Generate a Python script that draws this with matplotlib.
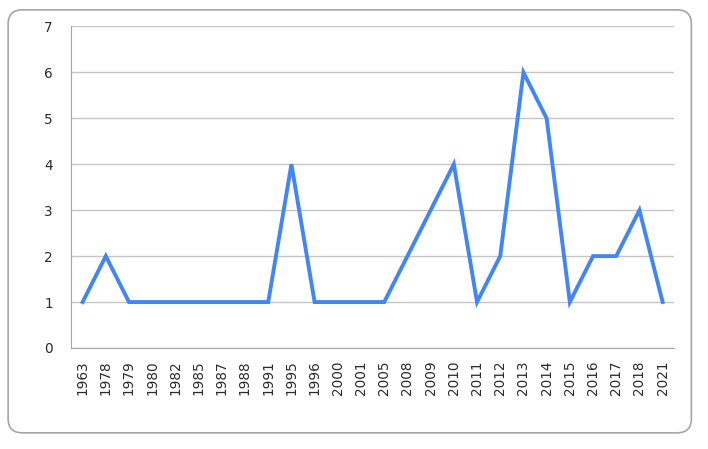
import matplotlib
matplotlib.use('Agg')
import matplotlib.pyplot as plt
from matplotlib.patches import FancyBboxPatch

# Data
years = ['1963', '1978', '1979', '1980', '1982', '1985', '1987', '1988', '1991',
         '1995', '1996', '2000', '2001', '2005', '2008', '2009', '2010', '2011',
         '2012', '2013', '2014', '2015', '2016', '2017', '2018', '2021']
counts = [1, 2, 1, 1, 1, 1, 1, 1, 1,
          4, 1, 1, 1, 1, 2, 3, 4, 1,
          2, 6, 5, 1, 2, 2, 3, 1]
y_ticks = [0, 1, 2, 3, 4, 5, 6, 7]

fig = plt.figure(figsize=(7.08, 4.49), dpi=100)

# rounded outer frame
frame = FancyBboxPatch((0.0115, 0.036), 0.965, 0.942,
                       boxstyle='round,pad=0,rounding_size=0.02',
                       transform=fig.transFigure, facecolor='none',
                       edgecolor='#a6a6a6', linewidth=1.2,
                       mutation_aspect=708 / 449, zorder=-1)
fig.patches.append(frame)

ax = fig.add_axes([0.1003, 0.225, 0.852, 0.716])
ax.set_facecolor('none')

x = list(range(len(years)))
ax.plot(x, counts, color='#4285f4', linewidth=2.8, solid_joinstyle='miter', zorder=3)

ax.set_xlim(-0.5, len(years) - 0.5)
ax.set_ylim(0, 7)
ax.set_yticks(y_ticks)
ax.set_xticks(x)
ax.set_xticklabels(years, rotation=90)

ax.grid(axis='y', color='#c6c6c6', linewidth=1)
ax.set_axisbelow(True)
for s in ['top', 'right']:
    ax.spines[s].set_visible(False)
ax.spines['left'].set_color('#a6a6a6')
ax.spines['bottom'].set_color('#a6a6a6')
ax.tick_params(axis='both', length=0, labelsize=9.8, colors='#2b2b2b')
ax.tick_params(axis='y', pad=13)
ax.tick_params(axis='x', pad=9)

fig.savefig('out.png', dpi=100)
